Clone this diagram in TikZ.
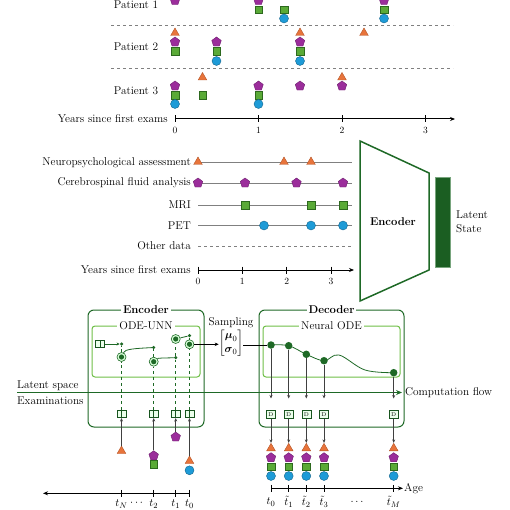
\documentclass[tikz,border=0pt]{standalone}
\usepackage{amsmath}
\usetikzlibrary{shapes.geometric,arrows.meta,calc}
\definecolor{dgreen}{RGB}{30,105,38}
\definecolor{lgreen}{RGB}{110,190,70}
\definecolor{orfill}{RGB}{232,116,59}
\definecolor{ordraw}{RGB}{180,85,40}
\definecolor{pufill}{RGB}{155,45,155}
\definecolor{pudraw}{RGB}{110,30,110}
\definecolor{sqfill}{RGB}{90,170,55}
\definecolor{sqdraw}{RGB}{45,105,30}
\definecolor{blfill}{RGB}{30,155,215}
\definecolor{bldraw}{RGB}{20,100,140}
\tikzset{
  tri/.style={regular polygon, regular polygon sides=3, fill=orfill, draw=ordraw, line width=0.4pt, inner sep=0pt, minimum size=10pt},
  pent/.style={regular polygon, regular polygon sides=5, fill=pufill, draw=pudraw, line width=0.4pt, inner sep=0pt, minimum size=10pt},
  sq/.style={rectangle, fill=sqfill, draw=sqdraw, line width=0.4pt, inner sep=0pt, minimum size=7.5pt},
  circ/.style={circle, fill=blfill, draw=bldraw, line width=0.4pt, inner sep=0pt, minimum size=9pt},
  lbl/.style={inner sep=0pt},
  ticklbl/.style={inner sep=0pt, font=\fontsize{9.5}{11}\selectfont},
  axis/.style={line width=1pt, -{Stealth[length=5pt,width=4pt]}},
  tickmark/.style={line width=0.8pt},
  sep/.style={dashed, gray, line width=0.6pt},
  track/.style={gray, line width=0.8pt},
  outerbox/.style={draw=dgreen, line width=1pt, rounded corners=6pt},
  innerbox/.style={draw=lgreen, line width=1pt, rounded corners=3pt},
  boxtitle/.style={fill=white, inner sep=2pt},
  sdot/.style={circle, fill=dgreen, inner sep=0pt, minimum size=3.5pt},
  rdot/.style={circle, draw=dgreen, fill=green!15, line width=0.6pt, inner sep=0pt, minimum size=9pt,
     path picture={\fill[dgreen] (path picture bounding box.center) circle (2.6pt);}},
  bdot/.style={circle, fill=dgreen, inner sep=0pt, minimum size=7.5pt},
  icon/.style={rectangle, draw=dgreen!80!black, fill=green!8, line width=0.6pt, inner sep=0pt, minimum width=9pt, minimum height=7.5pt,
     path picture={\draw[dgreen!80!black, line width=0.5pt] (path picture bounding box.north) -- (path picture bounding box.south);}},
  dicon/.style={rectangle, draw=dgreen!80!black, fill=green!8, line width=0.6pt, inner sep=0pt, minimum width=9pt, minimum height=7.5pt, font=\fontsize{5.5}{5.5}\selectfont},
  darr/.style={dgreen, dashed, line width=0.6pt},
  garr/.style={black!75, line width=0.6pt, -{Stealth[length=3.5pt,width=3pt]}},
}
\begin{document}
\begin{tikzpicture}[x=1pt,y=-1pt, font=\fontsize{11.3}{13.5}\selectfont]
\useasboundingbox (0,0) rectangle (510,510);

%% ---------- Top: patients ----------
\node[lbl] (pat1) at (136,5) {Patient 1};
\node[lbl] (pat2) at (136,47) {Patient 2};
\node[lbl] (pat3) at (136,91) {Patient 3};
\draw[sep] (111,25) -- (453,25);
\draw[sep] (111,68) -- (453,68);

% patient 1
\foreach \x/\y [count=\i] in {175/0.5,258.5/0.5,384/0.5} \node[pent] (p1p\i) at (\x,\y) {};
\foreach \x/\y [count=\i] in {258.5/9.5,284/9.5,384/9.5} \node[sq] (p1s\i) at (\x,\y) {};
\foreach \x/\y [count=\i] in {284/18.5,384/18.5} \node[circ] (p1c\i) at (\x,\y) {};
% patient 2
\foreach \x/\y [count=\i] in {175/33,300/33,364/33} \node[tri] (p2t\i) at (\x,\y) {};
\foreach \x/\y [count=\i] in {175/42,216.5/42,300/42} \node[pent] (p2p\i) at (\x,\y) {};
\foreach \x/\y [count=\i] in {175/51,216.5/51,300/51} \node[sq] (p2s\i) at (\x,\y) {};
\foreach \x/\y [count=\i] in {216.5/61,300/61} \node[circ] (p2c\i) at (\x,\y) {};
% patient 3
\foreach \x/\y [count=\i] in {202.5/77.5,342/77.5} \node[tri] (p3t\i) at (\x,\y) {};
\foreach \x/\y [count=\i] in {175/86,258.5/86,300/86,342/86} \node[pent] (p3p\i) at (\x,\y) {};
\foreach \x/\y [count=\i] in {175/95,202.5/95,258.5/95} \node[sq] (p3s\i) at (\x,\y) {};
\foreach \x/\y [count=\i] in {175/104,258.5/104} \node[circ] (p3c\i) at (\x,\y) {};

% axis 1
\node[lbl, anchor=east] (yl1) at (168,119) {Years since first exams};
\draw[axis] (175,119) -- (455,119);
\foreach \x/\t in {175/0,258.5/1,342/2,425.5/3} {
  \draw[tickmark] (\x,115.5) -- (\x,122.5);
  \node[ticklbl] at (\x,130.5) {\t};
}

%% ---------- Middle: modalities ----------
\node[lbl, anchor=east] (m1) at (191,162.5) {Neuropsychological assessment};
\node[lbl, anchor=east] (m2) at (191,183) {Cerebrospinal fluid analysis};
\node[lbl, anchor=east] (m3) at (191,205) {MRI};
\node[lbl, anchor=east] (m4) at (191,225.5) {PET};
\node[lbl, anchor=east] (m5) at (191,246) {Other data};
\foreach \y in {162.5,183,205,225.5} \draw[track] (198,\y) -- (352,\y);
\draw[track, dashed, line width=0.6pt] (198,246) -- (352,246);
\foreach \x [count=\i] in {198,284,311} \node[tri] (mt\i) at (\x,162) {};
\foreach \x [count=\i] in {198,245,296.5,343} \node[pent] (mp\i) at (\x,183) {};
\foreach \x [count=\i] in {245,311,343} \node[sq] (ms\i) at (\x,205) {};
\foreach \x [count=\i] in {264,311,343} \node[circ] (mc\i) at (\x,225.5) {};

\node[lbl, anchor=east] (yl2) at (191,270) {Years since first exams};
\draw[axis] (198,270) -- (354,270);
\foreach \x/\t in {198/0,242.3/1,286.7/2,331/3} {
  \draw[tickmark] (\x,266.5) -- (\x,273.5);
  \node[ticklbl] at (\x,281.5) {\t};
}

% encoder trapezoid
\draw[dgreen, line width=1.5pt, line join=miter] (360,141) -- (429,173) -- (429,270) -- (360,301) -- cycle;
\node[lbl, font=\fontsize{11.3}{13.5}\selectfont\bfseries] (enc1) at (393,222) {Encoder};
\node[rectangle, fill=dgreen!90!black, draw=dgreen!60, line width=0.5pt, minimum width=15pt, minimum height=90pt, inner sep=0pt] (lat) at (442.5,222) {};
\node[lbl, anchor=west, align=left] (latl) at (456,222) {Latent\\State};

%% ---------- Bottom ----------
% flow line
\coordinate (flowstart) at (17,392.5);
\coordinate (flowend) at (402,392.5);
\draw[dgreen, line width=1.3pt, -{Stealth[length=6pt,width=5pt]}] (flowstart) -- (flowend);
\node[lbl, anchor=west] (cf) at (405,392.5) {Computation flow};
\node[lbl, anchor=west] (ls) at (17,385.5) {Latent space};
\node[lbl, anchor=west] (ex) at (17,400.5) {Examinations};

% encoder boxes
\draw[outerbox] (88,310) rectangle (204,427);
\draw[innerbox] (92,326) rectangle (200,377);
\node[boxtitle, font=\fontsize{11.3}{13.5}\selectfont\bfseries] (enct) at (146,310) {Encoder};
\node[boxtitle] (odet) at (146,326) {ODE-UNN};

% decoder boxes
\draw[outerbox] (259,310) rectangle (404,427);
\draw[innerbox] (263,326) rectangle (400,377);
\node[boxtitle, font=\fontsize{11.3}{13.5}\selectfont\bfseries] (dect) at (331.5,310) {Decoder};
\node[boxtitle] (nodet) at (331.5,326) {Neural ODE};

% encoder interior
\node[icon] (ic0) at (100,344) {};
\node[sdot] (a1) at (121.5,344) {};
\node[rdot] (a2) at (121.5,357) {};
\node[sdot] (b1) at (153.7,347.5) {};
\node[rdot] (b2) at (153.7,361.7) {};
\node[rdot] (c1) at (175.7,339) {};
\node[sdot] (c2) at (175.7,357.7) {};
\node[sdot] (d1) at (189.5,335.7) {};
\node[rdot] (d2) at (189.5,344.3) {};
\draw[dgreen, line width=0.6pt, -{Stealth[length=3pt,width=3pt]}] (ic0) -- (a1);
\draw[dgreen, line width=0.8pt] (a2) .. controls (125,349) and (135,348.5) .. (b1);
\draw[dgreen, line width=0.8pt] (b2) .. controls (158,358) and (165,358) .. (c2);
\draw[dgreen, line width=0.8pt] (c1) -- (d1);

\node[icon] (ea) at (121.5,414) {};
\node[icon] (eb) at (153.7,414) {};
\node[icon] (ec) at (175.7,414) {};
\node[icon] (ed) at (189.5,414) {};
\draw[darr] (ea.north) -- (a2.south);
\draw[darr] (a2.north) -- (a1);
\draw[darr] (eb.north) -- (b2.south);
\draw[darr] (b2.north) -- (b1);
\draw[darr] (ec.north) -- (c2);
\draw[darr] (c2) -- (c1.south);
\draw[darr] (ed.north) -- (d2.south);
\draw[darr] (d2.north) -- (d1);

% sampling
\node[lbl] (samp) at (231,322.5) {Sampling};
\node[inner sep=0pt] (mat) at (231,343) {$\begin{bmatrix}\boldsymbol{\mu}_0\\ \boldsymbol{\sigma}_0\end{bmatrix}$};
\draw[black, line width=0.6pt, -{Stealth[length=4pt,width=3.5pt]}] (d2) -- (mat.west |- d2);

% examinations below encoder
\node[tri] (xa1) at (121.5,451) {};
\node[pent] (xb1) at (153.7,455.7) {};
\node[sq] (xb2) at (153.7,464.3) {};
\node[pent] (xc1) at (175.7,437) {};
\node[tri] (xd1) at (189.5,461) {};
\node[circ] (xd2) at (189.5,470.3) {};
\draw[garr] (xa1.north) -- (ea.south);
\draw[garr] (xb1.north) -- (eb.south);
\draw[garr] (xc1.north) -- (ec.south);
\draw[garr] (xd1.north) -- (ed.south);

% bottom-left axis
\draw[axis] (189.5,493.3) -- (43,493.3);
\foreach \x/\t in {121.5/t_N,153.7/t_2,175.7/t_1,189.5/t_0} {
  \draw[tickmark] (\x,489.8) -- (\x,496.8);
  \node[lbl] at (\x,504) {$\t$};
}
\node[lbl] (cd1) at (137.5,503) {$\cdots$};

% decoder interior
\node[bdot] (e1) at (271,345) {};
\node[bdot] (e2) at (288.7,345.7) {};
\node[bdot] (e3) at (306.3,354.3) {};
\node[bdot] (e4) at (324,360.7) {};
\node[bdot] (e5) at (393.7,372.7) {};
\draw[black, line width=0.6pt] (mat.east |- e1) -- (e1);
\draw[dgreen, line width=0.8pt] plot[smooth, tension=0.6] coordinates {(271,345) (288.7,345.7) (306.3,354.3) (324,360.7) (339,355) (365,370) (393.7,372.7)};

\foreach \x [count=\i] in {271,288.7,306.3,324,393.7} {
  \coordinate (de\i) at (\x,398.5);
  \node[dicon] (dd\i) at (\x,414.5) {D};
  \node[tri] (yt\i) at (\x,448.3) {};
  \node[pent] (yp\i) at (\x,457.7) {};
  \node[sq] (ys\i) at (\x,466.7) {};
  \node[circ] (yc\i) at (\x,476) {};
  \draw[garr] (e\i) -- (de\i);
  \draw[garr] (dd\i.south) -- (yt\i.north);
  \draw[tickmark] (\x,484.8) -- (\x,491.8);
}
\draw[axis] (271,488.3) -- (403,488.3);
\node[lbl, anchor=west] (age) at (404,488.3) {Age};
\node[lbl] at (271,502) {$t_0$};
\node[lbl] at (288.7,502) {$\tilde{t}_1$};
\node[lbl] at (306.3,502) {$\tilde{t}_2$};
\node[lbl] at (324,502) {$\tilde{t}_3$};
\node[lbl] at (357,502) {$\ldots$};
\node[lbl] at (393.7,502) {$\tilde{t}_M$};
\end{tikzpicture}
\end{document}
